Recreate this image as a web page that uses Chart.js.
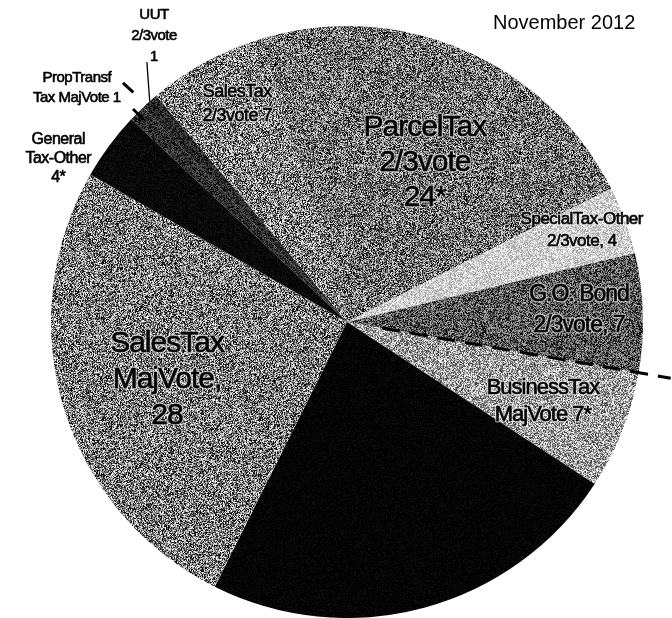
<!DOCTYPE html>
<html>
<head>
<meta charset="utf-8">
<script src="https://cdn.jsdelivr.net/npm/chart.js@4.4.1/dist/chart.umd.min.js"></script>
<style>
  html, body { margin: 0; background: #fff; }
</style>
</head>
<body>
<canvas id="pie" width="672" height="618"></canvas>
<script>
// measures on the ballot, clockwise from the upper left
const categories = [
  'PropTransf Tax MajVote', 'UUT 2/3vote', 'SalesTax 2/3vote', 'ParcelTax 2/3vote',
  'SpecialTax-Other 2/3vote', 'G.O. Bond 2/3vote', 'BusinessTax MajVote', 'Other',
  'SalesTax MajVote', 'General Tax-Other'
]
const counts = [1, 1, 7, 24, 4, 7, 7, 25, 28, 4]
const footnote = ['', '', '', '*', '', '', '*', '', '', '*']
// {n} gets the count; null = no label
const sliceText = [
  ['PropTransf', 'Tax MajVote {n}'],
  ['UUT', '2/3vote', '{n}'],
  ['SalesTax', '2/3vote {n}'],
  ['ParcelTax', '2/3vote', '{n}'],
  ['SpecialTax-Other', '2/3vote, {n}'],
  ['G.O. Bond', '2/3vote, {n}'],
  ['BusinessTax', 'MajVote {n}'],
  null,
  ['SalesTax', 'MajVote,', '{n}'],
  ['General', 'Tax-Other', '{n}']
]
const titleText = 'November 2012'

// grey of each wedge, 0-255
const shade = [45, 40, 128, 112, 208, 86, 160, 4, 122, 8]
// label spot: r = fraction of radius, da = degrees off the wedge middle
const place = [
  { r: 1.207, da: -4.0, size: 15, lh: 20 },
  { r: 1.166, da: 7.8, size: 15, lh: 21 },
  { r: 0.824, da: 1.7, size: 18, lh: 24 },
  { r: 0.60, da: 2.8, size: 30, lh: 35 },
  { r: 0.851, da: -1.1, size: 17, lh: 22 },
  { r: 0.785, da: -1.2, size: 23, lh: 31 },
  { r: 0.714, da: 0.5, size: 22, lh: 27 },
  null,
  { r: 0.639, da: -1.1, size: 30, lh: 36 },
  { r: 1.12, da: -7.1, size: 16, lh: 19 }
]

function rng(seed) {
  let a = seed >>> 0
  return function () {
    a = (a + 0x6D2B79F5) >>> 0
    let t = a
    t = Math.imul(t ^ (t >>> 15), t | 1)
    t ^= t + Math.imul(t ^ (t >>> 7), t | 61)
    return ((t ^ (t >>> 14)) >>> 0) / 4294967296
  }
}

// grainy screen look, fixed seed so it draws the same every time
function texture(grey, seed) {
  const c = document.createElement('canvas')
  c.width = 157
  c.height = 157
  const g = c.getContext('2d')
  const img = g.createImageData(c.width, c.height)
  const rand = rng(seed)
  const amp = Math.min(grey, 255 - grey) * 1.05 + 6
  for (let i = 0; i < c.width * c.height; i++) {
    const v = Math.max(0, Math.min(255, grey + (rand() - 0.5) * 2 * amp))
    img.data[i * 4] = v
    img.data[i * 4 + 1] = v
    img.data[i * 4 + 2] = v
    img.data[i * 4 + 3] = 255
  }
  g.putImageData(img, 0, 0)
  return g.createPattern(c, 'repeat')
}

const fills = shade.map((v, i) => texture(v, 7919 * (i + 3)))

function linesFor(i) {
  if (!sliceText[i]) return null
  return sliceText[i].map(t => t.replace('{n}', counts[i] + footnote[i]))
}

function polar(arc, angle, r) {
  return [arc.x + Math.cos(angle) * arc.outerRadius * r, arc.y + Math.sin(angle) * arc.outerRadius * r]
}

const pieLabels = {
  id: 'pieLabels',
  afterDraw(chart) {
    const ctx = chart.ctx
    const arcs = chart.getDatasetMeta(0).data
    const deg = Math.PI / 180
    const props = ['x', 'y', 'startAngle', 'endAngle', 'outerRadius']

    ctx.save()
    // dashed divider between G.O. Bond and BusinessTax
    const go = arcs[5].getProps(props, true)
    const [dx0, dy0] = polar(go, go.endAngle, 0.12)
    const [dx1, dy1] = polar(go, go.endAngle, 1.11)
    ctx.strokeStyle = '#000'
    ctx.lineWidth = 3
    ctx.setLineDash([18, 10])
    ctx.beginPath()
    ctx.moveTo(dx0, dy0)
    ctx.lineTo(dx1, dy1)
    ctx.stroke()
    ctx.setLineDash([])

    // leader lines for the two thin wedges
    const uut = arcs[1].getProps(props, true)
    const um = (uut.startAngle + uut.endAngle) / 2
    let p = polar(uut, um, 1.0), q = polar(uut, um + 4.2 * deg, 1.108)
    ctx.lineWidth = 1.3
    ctx.beginPath()
    ctx.moveTo(p[0], p[1])
    ctx.lineTo(q[0], q[1])
    ctx.stroke()
    const prop = arcs[0].getProps(props, true)
    const pm = (prop.startAngle + prop.endAngle) / 2
    p = polar(prop, pm + 2.2 * deg, 1.06)
    q = polar(prop, pm + 2.0 * deg, 1.107)
    ctx.lineWidth = 3
    ctx.beginPath()
    ctx.moveTo(p[0], p[1])
    ctx.lineTo(q[0], q[1])
    ctx.stroke()
    p = polar(prop, pm, 0.97)
    q = polar(prop, pm, 1.02)
    ctx.beginPath()
    ctx.moveTo(p[0], p[1])
    ctx.lineTo(q[0], q[1])
    ctx.stroke()

    // slice captions
    ctx.textAlign = 'center'
    ctx.textBaseline = 'middle'
    ctx.lineJoin = 'round'
    arcs.forEach((arc, i) => {
      const lines = linesFor(i)
      if (!lines) return
      const pl = place[i]
      const a = arc.getProps(props, true)
      const mid = (a.startAngle + a.endAngle) / 2 + pl.da * deg
      const [cx, cy] = polar(a, mid, pl.r)
      ctx.font = pl.size + 'px "Liberation Sans", Arial, sans-serif'
      ctx.letterSpacing = pl.size > 20 ? '-1px' : '-0.5px'
      const top = cy - (lines.length - 1) * pl.lh / 2
      lines.forEach((t, k) => {
        const y = top + k * pl.lh
        if (pl.r < 1) {
          ctx.strokeStyle = 'rgba(235,235,235,0.6)'
          ctx.lineWidth = 3
          ctx.strokeText(t, cx, y)
        }
        ctx.fillStyle = '#000'
        ctx.strokeStyle = '#000'
        ctx.lineWidth = 0.6
        ctx.fillText(t, cx, y)
        ctx.strokeText(t, cx, y)
      })
    })

    ctx.letterSpacing = '0px'
    ctx.textAlign = 'left'
    ctx.font = '20px "Liberation Sans", Arial, sans-serif'
    ctx.fillStyle = '#000'
    ctx.fillText(titleText, 493, 23)
    ctx.restore()
  }
}

new Chart(document.getElementById('pie'), {
  type: 'pie',
  data: {
    labels: categories,
    datasets: [{
      data: counts,
      backgroundColor: fills,
      borderWidth: 0
    }]
  },
  options: {
    responsive: false,
    animation: false,
    rotation: 313.2,
    layout: { padding: { left: 51, right: 29, top: 26, bottom: 0 } },
    plugins: {
      legend: { display: false },
      tooltip: { enabled: false }
    }
  },
  plugins: [pieLabels]
})
</script>
</body>
</html>
